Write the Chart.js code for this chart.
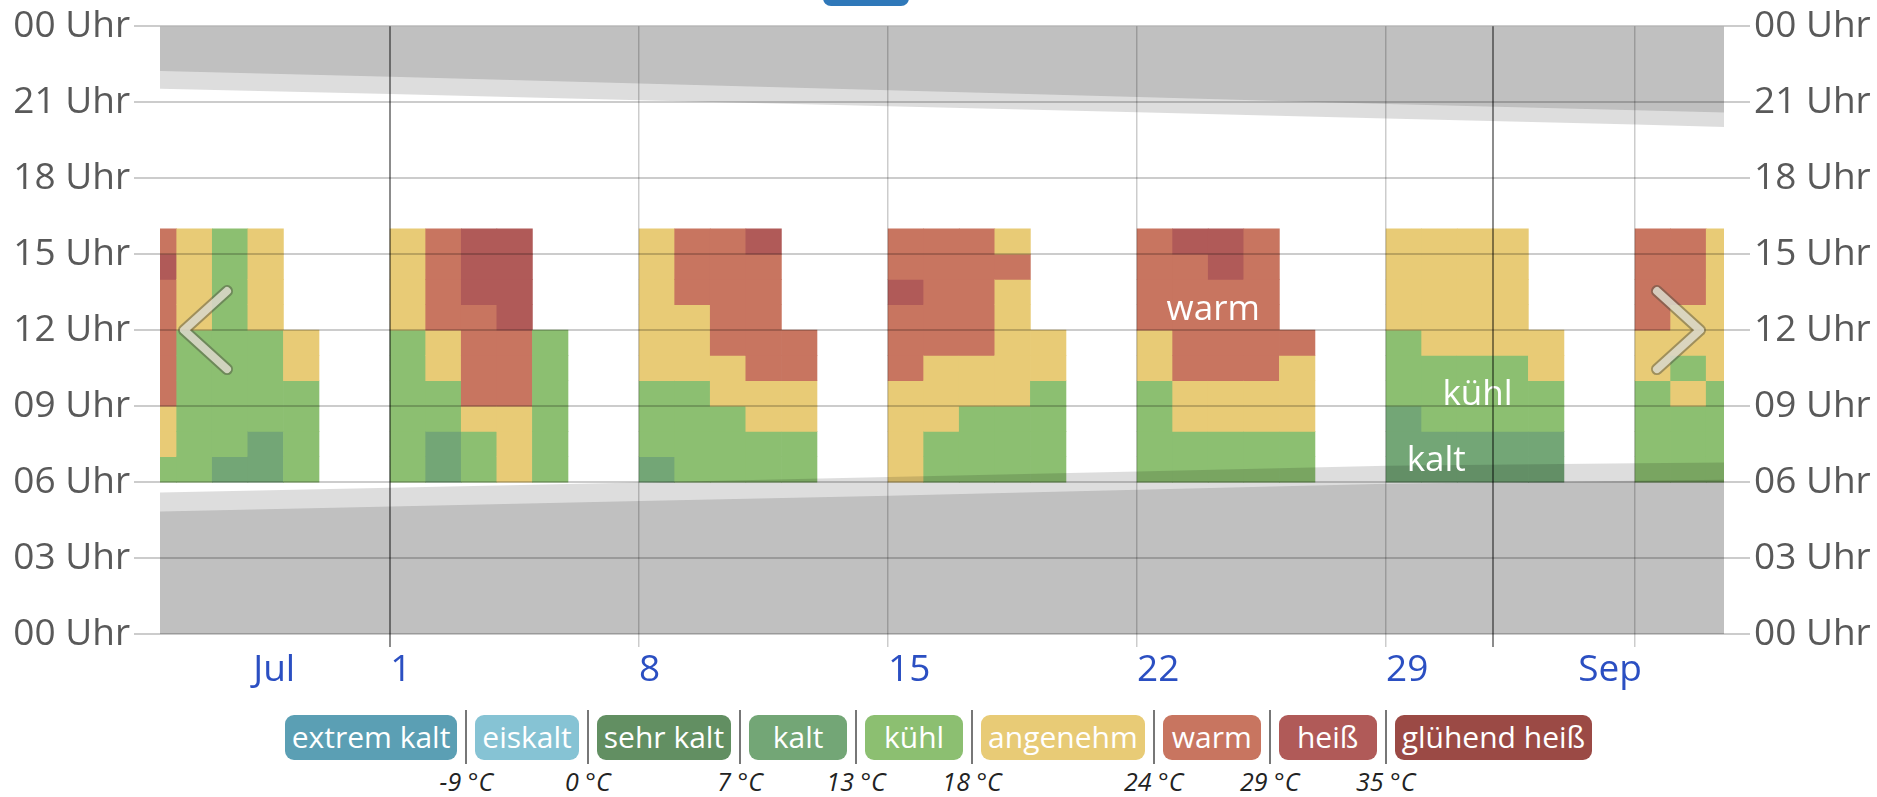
<!DOCTYPE html>
<html lang="de">
<head>
<meta charset="utf-8">
<title>Temperatur im Tagesverlauf</title>
<script src="https://cdn.jsdelivr.net/npm/chart.js@4.4.1/dist/chart.umd.min.js"></script>
<style>
    html, body { margin: 0; padding: 0; background: #fff; }
    body { width: 1877px; height: 797px; position: relative; overflow: hidden; font-family: "Open Sans", sans-serif; }
    #grafik { position: absolute; left: 0; top: 0; }
    .knopf { position: absolute; left: 823px; top: -10px; width: 86px; height: 16px; border-radius: 8px; background: #2f78b9; }
    .legende { position: absolute; left: 0; right: 0; top: 710px; display: flex; justify-content: center; align-items: center; }
    .chip { height: 45px; min-width: 98px; padding: 0 7px; box-sizing: border-box; border-radius: 9px; color: #fff; font-size: 30px; line-height: 44px; text-align: center; white-space: nowrap; }
    .trenner { position: relative; width: 2px; height: 54px; background: #777; margin: 0 8px; }
    .trenner span { position: absolute; top: 54px; left: 50%; transform: translateX(-50%); font-style: italic; font-size: 25px; color: #222; white-space: nowrap; }
</style>
</head>
<body>
<canvas id="grafik" width="1877" height="690"></canvas>
<div class="knopf"></div>
<div class="legende" id="legende"></div>

<script>
// Kategorien und Farben
const kategorien = ["extrem kalt", "eiskalt", "sehr kalt", "kalt", "kühl", "angenehm", "warm", "heiß", "glühend heiß"];
const farben = ["#5b9fb4", "#86c3d4", "#628f62", "#73a676", "#8cbf71", "#e8cb76", "#c87560", "#b05a58", "#9b4a45"];
const grenzen = [-9, 0, 7, 13, 18, 24, 29, 35];

const KA = 3, KU = 4, AN = 5, WA = 6, HE = 7;

// Tage relativ zum 1. Juli, Werte je Stunde ab 06 Uhr
const ersteStunde = 6;
const tage = [-7, -6, -5, -4, -3, 0, 1, 2, 3, 4, 7, 8, 9, 10, 11, 14, 15, 16, 17, 18, 21, 22, 23, 24, 25, 28, 29, 30, 31, 32, 35, 36, 37];
const spalten = [
    [KU, AN, AN, WA, WA, WA, WA, WA, HE, WA],
    [KU, KU, KU, KU, KU, KU, AN, AN, AN, AN],
    [KA, KU, KU, KU, KU, KU, KU, KU, KU, KU],
    [KA, KA, KU, KU, KU, KU, AN, AN, AN, AN],
    [KU, KU, KU, KU, AN, AN],

    [KU, KU, KU, KU, KU, KU, AN, AN, AN, AN],
    [KA, KA, KU, KU, AN, AN, WA, WA, WA, WA],
    [KU, KU, AN, WA, WA, WA, WA, HE, HE, HE],
    [AN, AN, AN, WA, WA, WA, HE, HE, HE, HE],
    [KU, KU, KU, KU, KU, KU],

    [KA, KU, KU, KU, AN, AN, AN, AN, AN, AN],
    [KU, KU, KU, KU, AN, AN, AN, WA, WA, WA],
    [KU, KU, KU, AN, AN, WA, WA, WA, WA, WA],
    [KU, KU, AN, AN, WA, WA, WA, WA, WA, HE],
    [KU, KU, AN, AN, WA, WA],

    [AN, AN, AN, AN, WA, WA, WA, HE, WA, WA],
    [KU, KU, AN, AN, AN, WA, WA, WA, WA, WA],
    [KU, KU, KU, AN, AN, WA, WA, WA, WA, WA],
    [KU, KU, KU, AN, AN, AN, AN, AN, WA, AN],
    [KU, KU, KU, KU, AN, AN],

    [KU, KU, KU, KU, AN, AN, WA, WA, WA, WA],
    [KU, KU, AN, AN, WA, WA, WA, WA, WA, HE],
    [KU, KU, AN, AN, WA, WA, WA, WA, HE, HE],
    [KU, KU, AN, AN, WA, WA, WA, WA, WA, WA],
    [KU, KU, AN, AN, AN, WA],

    [KA, KA, KA, KU, KU, KU, AN, AN, AN, AN],
    [KA, KA, KU, KU, KU, AN, AN, AN, AN, AN],
    [KA, KA, KU, KU, KU, AN, AN, AN, AN, AN],
    [KA, KA, KU, KU, KU, AN, AN, AN, AN, AN],
    [KA, KA, KU, KU, AN, AN],

    [KU, KU, KU, KU, AN, AN, WA, WA, WA, WA],
    [KU, KU, KU, AN, KU, AN, AN, WA, WA, WA],
    [KU, KU, KU, KU, AN, AN, AN, AN, AN, AN],
];

// Nacht und Dämmerung (Stunden)
const bandTage = [-7, 0, 7, 14, 21, 28, 35, 38];
const sonnenuntergang = [22.25, 22.0, 21.74, 21.47, 21.2, 20.93, 20.68, 20.58];
const abenddaemmerung = [21.55, 21.32, 21.08, 20.84, 20.6, 20.36, 20.12, 20.0];
const sonnenaufgang = [4.82, 5.03, 5.25, 5.46, 5.7, 5.93, 6.05, 6.1];
const morgendaemmerung = [5.57, 5.77, 5.98, 6.2, 6.42, 6.64, 6.74, 6.78];

// Achsenbeschriftung
const xTickTage = [-3.85, 0, 7, 14, 21, 28, 31, 33.4, 35];
const xTickTexte = ["Jul", "1", "8", "15", "22", "29", "", "Sep", ""];
const monatsTage = [0, 31];
const ohneLinie = [-3.85, 33.4];

// Beschriftungen im Diagramm
const textMarken = ["warm", "kühl", "kalt"];
const textTage = [23.14, 30.57, 29.41];
const textStunden = [12.41, 9.06, 6.44];

document.addEventListener("DOMContentLoaded", () => {
    Chart.defaults.font.family = "'Open Sans', sans-serif";

    baueLegende();
    zeichneGrafik();
});

function baueLegende() {
    const legende = document.getElementById("legende");

    kategorien.forEach((name, i) => {
        if (i > 0) {
            const trenner = document.createElement("div");
            trenner.className = "trenner";
            const wert = document.createElement("span");
            wert.textContent = grenzen[i - 1] + " °C";
            trenner.appendChild(wert);
            legende.appendChild(trenner);
        }

        const chip = document.createElement("div");
        chip.className = "chip";
        chip.style.background = farben[i];
        chip.textContent = name;
        legende.appendChild(chip);
    });
}

function zeichneGrafik() {
    const canvas = document.getElementById("grafik");

    const zellen = [];
    const zellenFarben = [];

    tage.forEach((tag, i) => {
        spalten[i].forEach((kat, j) => {
            zellen.push({ x: tag + 0.5, y: [ersteStunde + j, ersteStunde + j + 1] });
            zellenFarben.push(farben[kat]);
        });
    });

    const band = (werte, ziel) => ({
        type: "line",
        data: bandTage.map((t, i) => ({ x: t, y: werte[i] })),
        fill: ziel,
        backgroundColor: "rgba(0, 0, 0, 0.135)",
        borderColor: "rgba(0, 0, 0, 0)",
        borderWidth: 0,
        pointRadius: 0,
        tension: 0,
        order: 1,
    });

    const stundenText = (value) => String(value % 24).padStart(2, "0") + " Uhr";

    const textPlugin = {
        id: "textMarken",
        afterDatasetsDraw(chart) {
            const { ctx, scales } = chart;
            ctx.save();
            ctx.fillStyle = "#ffffff";
            ctx.font = "35px 'Open Sans', sans-serif";
            ctx.textAlign = "center";
            ctx.textBaseline = "alphabetic";
            textMarken.forEach((text, i) => {
                ctx.fillText(text, scales.x.getPixelForValue(textTage[i]), scales.y.getPixelForValue(textStunden[i]));
            });
            ctx.restore();
        },
    };

    const pfeilPlugin = {
        id: "pfeile",
        afterDraw(chart) {
            const { ctx, chartArea } = chart;
            const mitte = (chartArea.top + chartArea.bottom) / 2;

            const pfeil = (spitze, ende) => {
                ctx.beginPath();
                ctx.moveTo(ende, mitte - 39);
                ctx.lineTo(spitze, mitte);
                ctx.lineTo(ende, mitte + 39);
                ctx.lineCap = "round";
                ctx.lineJoin = "round";
                ctx.strokeStyle = "rgba(70, 70, 60, 0.45)";
                ctx.lineWidth = 12;
                ctx.stroke();
                ctx.strokeStyle = "rgba(232, 230, 215, 0.8)";
                ctx.lineWidth = 8;
                ctx.stroke();
            };

            ctx.save();
            pfeil(chartArea.left + 24, chartArea.left + 67);
            pfeil(chartArea.right - 24, chartArea.right - 67);
            ctx.restore();
        },
    };

    new Chart(canvas, {
        type: "bar",
        data: {
            datasets: [
                band(sonnenuntergang, "end"),
                band(abenddaemmerung, "end"),
                band(sonnenaufgang, "start"),
                band(morgendaemmerung, "start"),
                {
                    type: "bar",
                    data: zellen,
                    backgroundColor: zellenFarben,
                    borderWidth: 0,
                    barPercentage: 1,
                    categoryPercentage: 1,
                    order: 2,
                },
            ],
        },
        options: {
            responsive: false,
            animation: false,
            devicePixelRatio: 1,
            layout: {
                padding: { top: 23, left: 0, right: 0, bottom: 0 },
            },
            plugins: {
                legend: { display: false },
                tooltip: { enabled: false },
            },
            scales: {
                x: {
                    type: "linear",
                    min: -6.47,
                    max: 37.5,
                    offset: false,
                    afterBuildTicks: (achse) => {
                        achse.ticks = xTickTage.map((v) => ({ value: v }));
                    },
                    afterFit: (achse) => {
                        achse.height = 56;
                    },
                    border: { display: false },
                    grid: {
                        offset: false,
                        z: 1,
                        tickLength: 13,
                        color: (context) => {
                            const v = context.tick ? context.tick.value : null;
                            if (ohneLinie.includes(v)) {
                                return "rgba(0, 0, 0, 0)";
                            }
                            return monatsTage.includes(v) ? "rgba(0, 0, 0, 0.45)" : "rgba(0, 0, 0, 0.2)";
                        },
                        lineWidth: (context) => {
                            const v = context.tick ? context.tick.value : null;
                            return monatsTage.includes(v) ? 2 : 1.5;
                        },
                    },
                    ticks: {
                        autoSkip: false,
                        maxRotation: 0,
                        align: "start",
                        padding: 1,
                        color: "#2b4fc2",
                        font: { size: 37 },
                        callback: (value) => {
                            const i = xTickTage.indexOf(value);
                            return i >= 0 ? xTickTexte[i] : "";
                        },
                    },
                },
                y: {
                    min: 0,
                    max: 24,
                    afterFit: (achse) => {
                        achse.width = 160;
                    },
                    border: { display: false },
                    grid: {
                        z: 1,
                        tickLength: 26,
                        color: "rgba(0, 0, 0, 0.2)",
                        lineWidth: 2,
                    },
                    ticks: {
                        stepSize: 3,
                        padding: 4,
                        color: "#595959",
                        font: { size: 37 },
                        callback: stundenText,
                    },
                },
                y2: {
                    type: "linear",
                    position: "right",
                    min: 0,
                    max: 24,
                    afterFit: (achse) => {
                        achse.width = 153;
                    },
                    border: { display: false },
                    grid: {
                        drawOnChartArea: false,
                        z: 1,
                        tickLength: 26,
                        color: "rgba(0, 0, 0, 0.2)",
                        lineWidth: 2,
                    },
                    ticks: {
                        stepSize: 3,
                        padding: 4,
                        color: "#595959",
                        font: { size: 37 },
                        callback: stundenText,
                    },
                },
            },
        },
        plugins: [textPlugin, pfeilPlugin],
    });
}
</script>
</body>
</html>
